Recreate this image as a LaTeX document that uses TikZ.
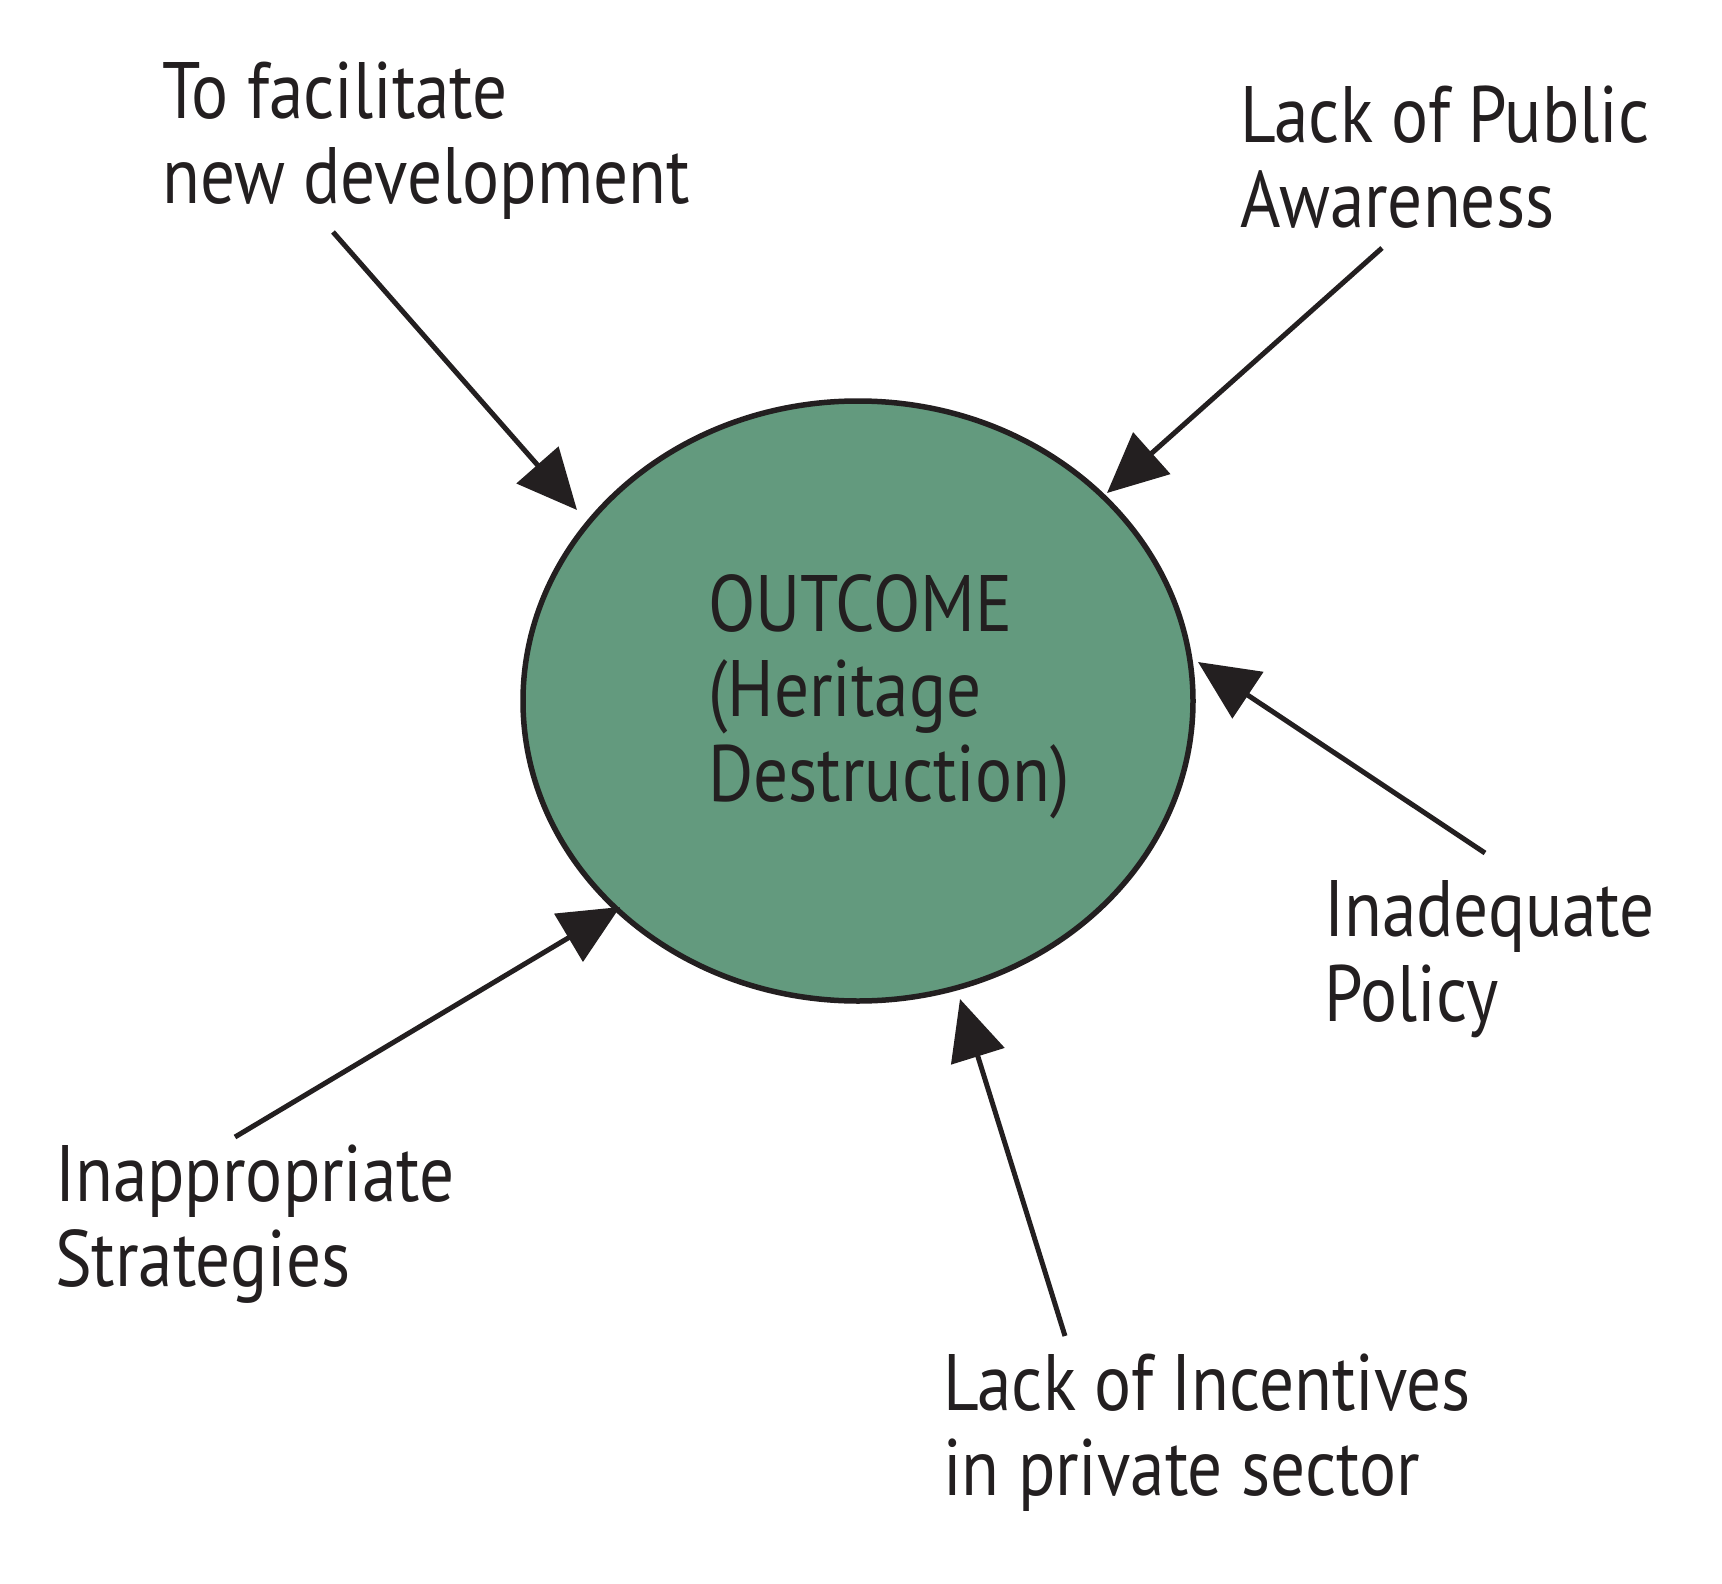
\documentclass[tikz,border=0pt]{standalone}
\usepackage{fontspec}
\setmainfont{PT Sans}[FakeStretch=0.865]
\usetikzlibrary{shapes.geometric,arrows.meta}
\definecolor{ink}{RGB}{35,31,32}
\definecolor{outgreen}{RGB}{99,154,126}
\begin{document}
\begin{tikzpicture}[x=1pt,y=-1pt,
  lbl/.style={anchor=base west, inner sep=0pt, text=ink, font=\fontsize{80}{85}\selectfont},
  arr/.style={draw=ink, line width=5pt, -{Triangle[length=60pt,width=55pt]}}]
\useasboundingbox (0,0) rectangle (1722,1584);
\node[ellipse, draw=ink, line width=5.5pt, fill=outgreen, minimum width=670pt, minimum height=600pt, inner sep=0pt] (outcome) at (858,701) {};
\node[lbl] (outtxt) at (708,631) {\begin{tabular}[t]{@{}l@{}}OUTCOME\\(Heritage\\Destruction)\end{tabular}};
\node[lbl] (dev) at (162,119) {\begin{tabular}[t]{@{}l@{}}To facilitate\\new development\end{tabular}};
\node[lbl] (pub) at (1240,143) {\begin{tabular}[t]{@{}l@{}}Lack of Public\\Awareness\end{tabular}};
\node[lbl] (pol) at (1324,936) {\begin{tabular}[t]{@{}l@{}}Inadequate\\Policy\end{tabular}};
\node[lbl] (inc) at (943,1410) {\begin{tabular}[t]{@{}l@{}}Lack of Incentives\\in private sector\end{tabular}};
\node[lbl] (str) at (55,1201) {\begin{tabular}[t]{@{}l@{}}Inappropriate\\Strategies\end{tabular}};
\coordinate (s1) at (333,232);  \coordinate (t1) at (577,510);
\coordinate (s2) at (1382,248); \coordinate (t2) at (1107,493);
\coordinate (s3) at (1485,853); \coordinate (t3) at (1198,662);
\coordinate (s4) at (1065,1336); \coordinate (t4) at (960,999);
\coordinate (s5) at (235,1137); \coordinate (t5) at (620,907);
\draw[arr] (s1) -- (t1);
\draw[arr] (s2) -- (t2);
\draw[arr] (s3) -- (t3);
\draw[arr] (s4) -- (t4);
\draw[arr] (s5) -- (t5);
\end{tikzpicture}
\end{document}
